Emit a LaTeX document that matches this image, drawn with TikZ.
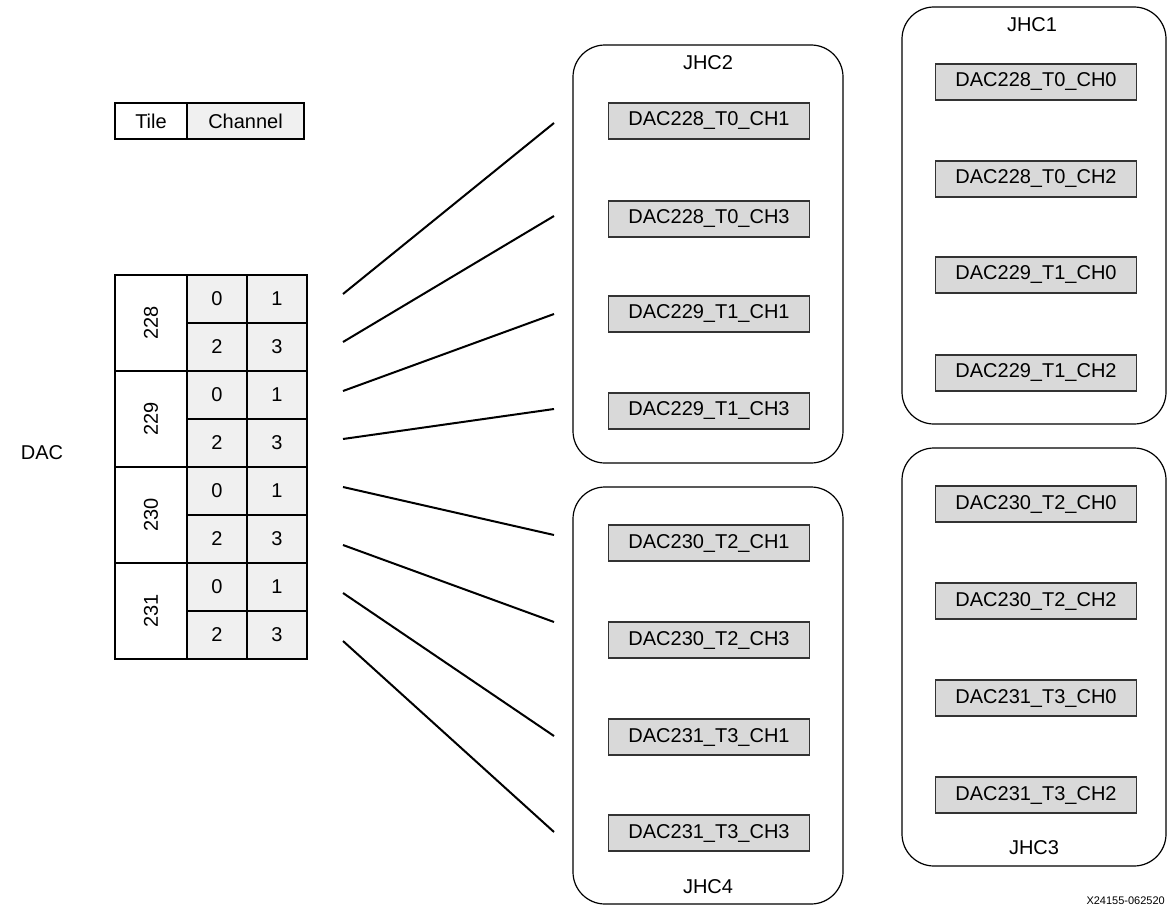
\documentclass[tikz,border=0pt]{standalone}
\usepackage{fontspec}
\setmainfont{Liberation Sans}
\begin{document}
\begin{tikzpicture}[x=1pt,y=-1pt,
  every node/.style={font=\fontsize{20}{24}\selectfont, inner sep=0pt},
  dacbox/.style={draw=black!80, fill=black!15, line width=1.2pt, minimum width=201pt, minimum height=36pt},
  jhcbox/.style={draw=black, line width=1.2pt, rounded corners=32pt},
  tilecell/.style={draw=black, line width=1.2pt, fill=white, minimum width=72pt, minimum height=96pt},
  chcell/.style={draw=black, line width=1.2pt, fill=black!6, minimum width=60pt, minimum height=48pt},
  link/.style={line width=2pt}]
\useasboundingbox (0,0) rectangle (1167,907);

% legend
\node[draw=black, line width=1.2pt, fill=white, minimum width=72pt, minimum height=36pt] (legT) at (151,121) {Tile};
\node[draw=black, line width=1.2pt, fill=black!6, minimum width=117pt, minimum height=36pt] (legC) at (245.5,121) {Channel};

% DAC label
\node (dac) at (42,453) {DAC};

% table
\foreach \t/\i in {228/0,229/1,230/2,231/3}{
  \node[tilecell] (tile\t) at (151,{323+96*\i}) {};
  \node[rotate=90] (tilelab\t) at (151,{323+96*\i}) {\t};
  \node[chcell] (c\t a) at (217,{299+96*\i}) {0};
  \node[chcell] (c\t b) at (277,{299+96*\i}) {1};
  \node[chcell] (c\t c) at (217,{347+96*\i}) {2};
  \node[chcell] (c\t d) at (277,{347+96*\i}) {3};
}

% JHC boxes
\node[jhcbox, minimum width=270pt, minimum height=418pt] (jhc2) at (708,254) {};
\node[jhcbox, minimum width=270pt, minimum height=417pt] (jhc4) at (708,695.5) {};
\node[jhcbox, minimum width=264pt, minimum height=417pt] (jhc1) at (1034,215.5) {};
\node[jhcbox, minimum width=264pt, minimum height=418pt] (jhc3) at (1034,657) {};
\node (jhc2lab) at (708,63) {JHC2};
\node (jhc4lab) at (708,887) {JHC4};
\node (jhc1lab) at (1032,25) {JHC1};
\node (jhc3lab) at (1034,848) {JHC3};

% DAC boxes
\node[dacbox] (d0) at (709,121) {DAC228\_T0\_CH1};
\node[dacbox] (d1) at (709,219) {DAC228\_T0\_CH3};
\node[dacbox] (d2) at (709,314) {DAC229\_T1\_CH1};
\node[dacbox] (d3) at (709,411) {DAC229\_T1\_CH3};
\node[dacbox] (d4) at (709,543) {DAC230\_T2\_CH1};
\node[dacbox] (d5) at (709,640) {DAC230\_T2\_CH3};
\node[dacbox] (d6) at (709,737) {DAC231\_T3\_CH1};
\node[dacbox] (d7) at (709,833) {DAC231\_T3\_CH3};

\node[dacbox] (e0) at (1036,82) {DAC228\_T0\_CH0};
\node[dacbox] (e1) at (1036,179) {DAC228\_T0\_CH2};
\node[dacbox] (e2) at (1036,275) {DAC229\_T1\_CH0};
\node[dacbox] (e3) at (1036,373) {DAC229\_T1\_CH2};
\node[dacbox] (e4) at (1036,504) {DAC230\_T2\_CH0};
\node[dacbox] (e5) at (1036,601) {DAC230\_T2\_CH2};
\node[dacbox] (e6) at (1036,698) {DAC231\_T3\_CH0};
\node[dacbox] (e7) at (1036,795) {DAC231\_T3\_CH2};

% connector lines
\coordinate (L1) at (343,294); \coordinate (R1) at (554,123);
\coordinate (L2) at (343,342); \coordinate (R2) at (554,216);
\coordinate (L3) at (343,391); \coordinate (R3) at (554,314);
\coordinate (L4) at (343,439); \coordinate (R4) at (554,409);
\coordinate (L5) at (343,487); \coordinate (R5) at (554,535);
\coordinate (L6) at (343,545); \coordinate (R6) at (554,622);
\coordinate (L7) at (343,593); \coordinate (R7) at (554,736);
\coordinate (L8) at (343,641); \coordinate (R8) at (554,832);
\foreach \k in {1,...,8}{\draw[link] (L\k) -- (R\k);}

% figure id
\node[anchor=south east, font=\fontsize{11}{13}\selectfont] (figid) at (1165,905) {X24155-062520};
\end{tikzpicture}
\end{document}
